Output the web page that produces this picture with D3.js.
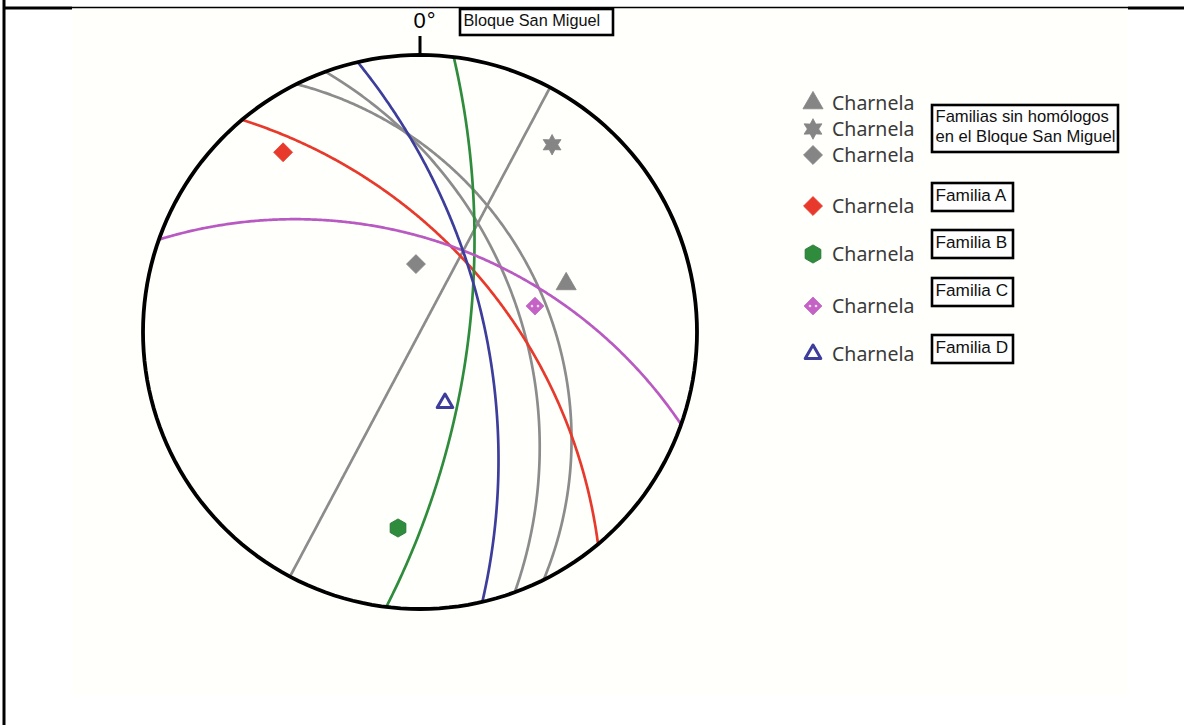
<!DOCTYPE html>
<html>
<head>
<meta charset="utf-8">
<script src="https://cdn.jsdelivr.net/npm/d3@7"></script>
<style>
  body { margin: 0; background: #fff; }
  svg { display: block; }
  .charnela { font-family: "Noto Sans", sans-serif; font-size: 19.5px; fill: #3a3a3a; }
  .boxlabel { font-family: "Liberation Sans", Arial, sans-serif; fill: #111; }
</style>
</head>
<body>
<div id="wrapper"></div>
<script>
// Great circles, given as dip direction / dip (degrees)
const planeNames    = ["Sin homólogo 1", "Sin homólogo 2", "Sin homólogo 3", "Familia A", "Familia B", "Familia C", "Familia D"];
const planeDipDirs  = [118, 70, 63.5, 50, 97, 19.5, 77];
const planeDips     = [90, 50.5, 41, 57.5, 70, 53.5, 64];
const planeColors   = ["#8c8c8c", "#8c8c8c", "#8c8c8c", "#e83a2c", "#2f8c3c", "#b95ac2", "#3d3d9c"];

// Fold hinges (charnelas), given as trend / plunge (degrees)
const hingeTrends   = [71.8, 35.2, 356.6, 322.7, 186.4, 77.3, 160.6];
const hingePlunges  = [31.9, 10.8, 62.4, 11.6, 19.1, 43.9, 59.6];
const hingeShapes   = ["triangle", "star", "diamond", "diamond", "hexagon", "dotdiamond", "opentriangle"];
const hingeColors   = ["#858585", "#858585", "#858585", "#e83a2c", "#2f8c3c", "#c462c6", "#3d3d9c"];

// Legend
const legendLabels  = ["Charnela", "Charnela", "Charnela", "Charnela", "Charnela", "Charnela", "Charnela"];
const legendRowsY   = [103, 129, 155, 206, 254, 306, 354];
const boxLabels     = [["Familias sin homólogos", "en el Bloque San Miguel"], ["Familia A"], ["Familia B"], ["Familia C"], ["Familia D"]];
const boxTops       = [105, 183, 230, 278, 335];

function drawNet() {

  // 1. Dimensions

  const dimensions = {
    width: 1184,
    height: 725,
    netCenter: [420, 332],
    netRadius: 277,
  };

  // 2. Canvas

  const wrapper = d3.select("#wrapper")
    .append("svg")
      .attr("width", dimensions.width)
      .attr("height", dimensions.height);

  // faint paper tone of the scanned figure + table cell borders
  wrapper.append("rect")
      .attr("x", 72).attr("y", 9)
      .attr("width", 1056).attr("height", 686)
      .attr("fill", "#fffffc");

  const borders = wrapper.append("g").attr("stroke", "#000");
  borders.append("line").attr("x1", 4).attr("x2", 4).attr("y1", 0).attr("y2", 725).attr("stroke-width", 3);
  borders.append("line").attr("x1", 3).attr("x2", 72).attr("y1", 8).attr("y2", 8).attr("stroke-width", 3);
  borders.append("line").attr("x1", 72).attr("x2", 1128).attr("y1", 7.5).attr("y2", 7.5).attr("stroke-width", 1.6);
  borders.append("line").attr("x1", 1128).attr("x2", 1184).attr("y1", 8).attr("y2", 8).attr("stroke-width", 3);

  // 3. Projection: lower hemisphere, equal angle (Wulff).
  // lat = plunge, lon = 180 - trend puts north at the top, east on the right.
  const projection = d3.geoStereographic()
    .rotate([0, -90])
    .clipAngle(90)
    .scale(dimensions.netRadius)
    .translate(dimensions.netCenter)
    .precision(0.2);

  const path = d3.geoPath(projection);
  const toGeo = (trend, plunge) => [180 - trend, plunge];

  const bounds = wrapper.append("g");

  // 4. Great circles

  const greatCircles = planeNames.map((name, i) => {
    const poleTrend = planeDipDirs[i] + 180;
    const polePlunge = 90 - planeDips[i];
    const ring = d3.geoCircle()
      .center(toGeo(poleTrend, polePlunge))
      .radius(90)
      .precision(0.5)().coordinates[0];
    return { name, color: planeColors[i], geometry: { type: "LineString", coordinates: ring } };
  });

  bounds.selectAll(".plane")
    .data(greatCircles)
    .join("path")
      .attr("class", "plane")
      .attr("d", d => path(d.geometry))
      .attr("fill", "none")
      .attr("stroke", d => d.color)
      .attr("stroke-width", 2.7)
      .attr("stroke-linecap", "round");

  // primitive circle
  bounds.append("path")
      .datum({ type: "Sphere" })
      .attr("d", path)
      .attr("fill", "none")
      .attr("stroke", "#000")
      .attr("stroke-width", 3.8);

  // north tick + label
  const north = projection(toGeo(0, 0));
  bounds.append("line")
      .attr("x1", north[0]).attr("x2", north[0])
      .attr("y1", north[1]).attr("y2", north[1] - 19)
      .attr("stroke", "#000")
      .attr("stroke-width", 3);
  bounds.append("text")
      .attr("x", north[0] + 5)
      .attr("y", north[1] - 27)
      .attr("text-anchor", "middle")
      .style("font-family", "Liberation Sans, Arial, sans-serif")
      .style("font-size", "22px")
      .style("letter-spacing", "1px")
      .text("0°");

  drawBox(wrapper, 460, 9, 153, 26, ["Bloque San Miguel"], 16.3);

  // 5. Hinges

  const symbolTypes = {
    triangle: d3.symbolTriangle,
    opentriangle: d3.symbolTriangle,
    diamond: squareDiamond,
    dotdiamond: squareDiamond,
    hexagon: hexagonSymbol,
    star: star6Symbol,
  };
  const symbolSizes = {
    triangle: 175, opentriangle: 105, diamond: 180, dotdiamond: 160, hexagon: 215, star: 230,
  };

  const hinges = hingeTrends.map((t, i) => ({
    shape: hingeShapes[i],
    color: hingeColors[i],
    xy: projection(toGeo(t, hingePlunges[i])),
  }));

  const drawMarker = (sel, shape, color) => {
    sel.append("path")
        .attr("d", d3.symbol(symbolTypes[shape], symbolSizes[shape])())
        .attr("fill", shape === "opentriangle" ? "#fff" : color)
        .attr("stroke", shape === "hexagon" ? "#1f6e2c" : color)
        .attr("stroke-width", shape === "opentriangle" ? 3 : 0.8)
        .attr("stroke-linejoin", "round");
    if (shape === "dotdiamond") {
      sel.selectAll(".dot")
        .data([-3, 3])
        .join("circle")
          .attr("cx", d => d)
          .attr("cy", 0)
          .attr("r", 1.3)
          .attr("fill", "#f6dff6");
    }
  };

  bounds.selectAll(".hinge")
    .data(hinges)
    .join("g")
      .attr("class", "hinge")
      .attr("transform", d => `translate(${d.xy[0]}, ${d.xy[1]})`)
      .each(function(d) { drawMarker(d3.select(this), d.shape, d.color); });

  // 6. Legend

  const legend = wrapper.append("g");
  const rows = legend.selectAll(".row")
    .data(legendLabels.map((label, i) => ({ label, shape: hingeShapes[i], color: hingeColors[i], y: legendRowsY[i] })))
    .join("g")
      .attr("class", "row")
      .attr("transform", d => `translate(813, ${d.y})`);

  rows.each(function(d) { drawMarker(d3.select(this), d.shape, d.color); });
  rows.append("text")
      .attr("class", "charnela")
      .attr("x", 19)
      .attr("y", 7)
      .text(d => d.label);

  boxLabels.forEach((lines, i) => {
    if (lines.length > 1) {
      drawBox(legend, 932, boxTops[i], 186, 47, lines, 16.6);
    } else {
      drawBox(legend, 932, boxTops[i], 81, 28, lines, 17.2);
    }
  });
}

function drawBox(parent, x, y, w, h, lines, fontSize) {
  const g = parent.append("g");
  g.append("rect")
      .attr("x", x).attr("y", y)
      .attr("width", w).attr("height", h)
      .attr("fill", "#fff")
      .attr("stroke", "#000")
      .attr("stroke-width", 2.6);
  g.selectAll("text")
    .data(lines)
    .join("text")
      .attr("class", "boxlabel")
      .attr("x", x + 3.5)
      .attr("y", (d, i) => y + fontSize + (lines.length > 1 ? 0.5 : 0.5) + i * (fontSize + 3.5))
      .style("font-size", `${fontSize}px`)
      .text(d => d);
}

// custom symbol types for d3.symbol
const squareDiamond = {
  draw(context, size) {
    const r = Math.sqrt(size / 2);
    context.moveTo(0, -r);
    context.lineTo(r, 0);
    context.lineTo(0, r);
    context.lineTo(-r, 0);
    context.closePath();
  },
};

const hexagonSymbol = {
  draw(context, size) {
    const r = Math.sqrt(size / (1.5 * Math.sqrt(3)));
    for (let k = 0; k < 6; k++) {
      const a = (-90 + 60 * k) * Math.PI / 180;
      if (k === 0) context.moveTo(r * Math.cos(a), r * Math.sin(a));
      else context.lineTo(r * Math.cos(a), r * Math.sin(a));
    }
    context.closePath();
  },
};

const star6Symbol = {
  draw(context, size) {
    const R = Math.sqrt(size) * 0.68;
    const r = R * 0.55;
    for (let k = 0; k < 12; k++) {
      const a = (-90 + 30 * k) * Math.PI / 180;
      const rr = k % 2 === 0 ? R : r;
      if (k === 0) context.moveTo(rr * Math.cos(a), rr * Math.sin(a));
      else context.lineTo(rr * Math.cos(a), rr * Math.sin(a));
    }
    context.closePath();
  },
};

drawNet();
</script>
</body>
</html>
